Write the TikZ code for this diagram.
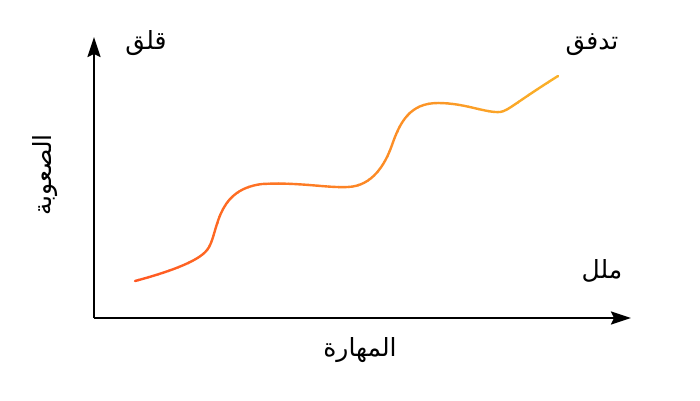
\documentclass[tikz,border=0pt]{standalone}
\usepackage{fontspec}
\newfontfamily\arabicfont[Script=Arabic]{DejaVu Sans}
\TeXXeTstate=1
\usetikzlibrary{arrows.meta}
\definecolor{startc}{RGB}{255,87,34}
\definecolor{endc}{RGB}{250,178,40}
\tikzset{
  axisline/.style={line width=2.2pt, -{Stealth[length=20pt,width=13pt,inset=3pt]}},
  lbl/.style={font=\arabicfont\fontsize{25}{30}\selectfont, inner sep=0pt},
  curveline/.style={line width=2.4pt, line cap=round}
}
\def\curvepath{(135,281) .. controls (165,273) and (198,262) .. (207,250)
  .. controls (219,236) and (213,190) .. (262,184)
  .. controls (300,182) and (325,188) .. (348,187)
  .. controls (372,186) and (385,165) .. (392,145)
  .. controls (400,122) and (410,103) .. (438,103)
  .. controls (465,103) and (485,113) .. (500,112)
  .. controls (508,111) and (515,103) .. (558,76)}
\begin{document}
\begin{tikzpicture}[x=1pt,y=-1pt]
\useasboundingbox (0,0) rectangle (700,400);
\coordinate (O) at (94,318);
\coordinate (Ytop) at (94,37);
\coordinate (Xend) at (631,318);
\draw[axisline] (O) -- (Ytop);
\draw[axisline] (O) -- (Xend);
\foreach \i in {0,...,43}{
  \pgfmathsetmacro\p{100*\i/43}
  \colorlet{cc}{endc!\p!startc}
  \begin{scope}
    \clip (128+\i*10,0) rectangle (128+\i*10+10.6,400);
    \draw[curveline, cc] \curvepath;
  \end{scope}
}
\node[lbl] (anx) at (146,43) {\beginR قلق\endR};
\node[lbl] (flow) at (592,45) {\beginR تدفق\endR};
\node[lbl] (bore) at (602,271) {\beginR ملل\endR};
\node[lbl] (skill) at (360,350) {\beginR المهارة\endR};
\node[lbl, rotate=90] (diff) at (45,175) {\beginR الصعوبة\endR};
\end{tikzpicture}
\end{document}
